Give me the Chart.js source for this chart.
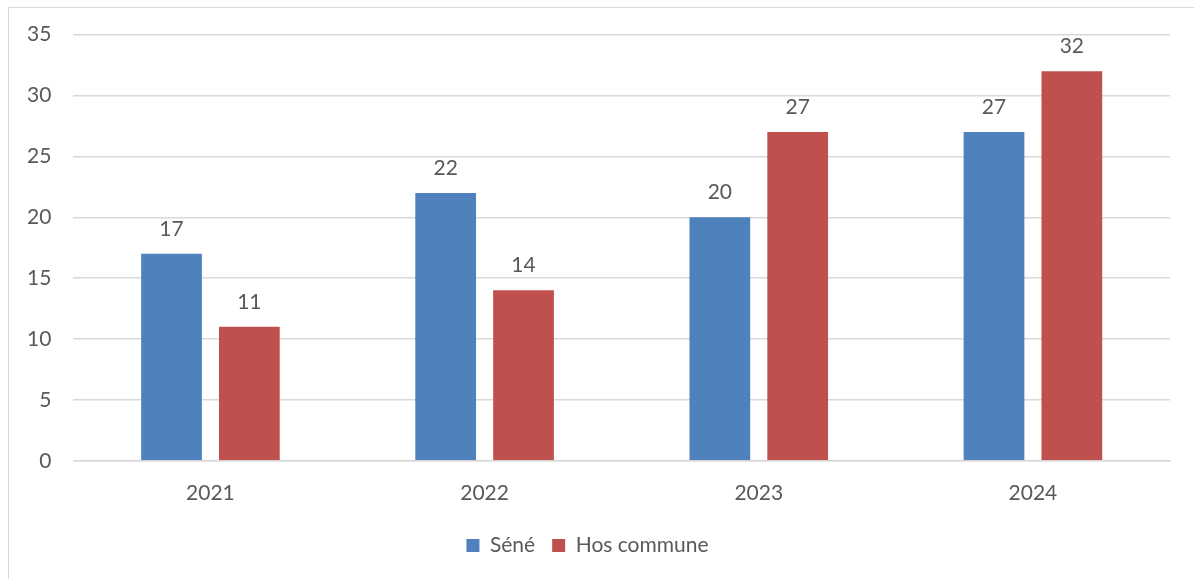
<!DOCTYPE html>
<html>
<head>
<meta charset="utf-8">
<title>Séné / Hos commune</title>
<script src="https://cdn.jsdelivr.net/npm/chart.js@4/dist/chart.umd.min.js"></script>
<style>
  html, body { margin:0; padding:0; background:#fff; overflow:hidden; }
  #wrap { position:relative; width:1194px; height:579px; }
  #frame { position:absolute; left:8px; top:7px; width:1200px; height:600px; border:1px solid #d9d9d9; box-sizing:border-box; }
  canvas { position:absolute; left:0; top:0; }
</style>
</head>
<body>
<div id="wrap">
  <div id="frame"></div>
  <canvas id="chart" width="1194" height="579"></canvas>
</div>
<script>
const years      = ['2021', '2022', '2023', '2024'];
const seneVals   = [17, 22, 20, 27];
const hosVals    = [11, 14, 27, 32];
const yTicks     = [0, 5, 10, 15, 20, 25, 30, 35];

const TEXT = '#595959';
const GRID = '#d9d9d9';
const FONT = 'Lato, "Open Sans", sans-serif';
const SIZE = 21;

// value above each bar
const barLabels = {
  id: 'barLabels',
  afterDatasetsDraw(chart) {
    const ctx = chart.ctx;
    ctx.save();
    ctx.font = `${SIZE}px ${FONT}`;
    ctx.fillStyle = TEXT;
    ctx.textAlign = 'center';
    ctx.textBaseline = 'middle';
    chart.data.datasets.forEach((ds, i) => {
      chart.getDatasetMeta(i).data.forEach((bar, j) => {
        ctx.fillText(String(ds.data[j]), bar.x, bar.y - 25);
      });
    });
    ctx.restore();
  }
};

new Chart(document.getElementById('chart').getContext('2d'), {
  type: 'bar',
  data: {
    labels: years,
    datasets: [
      { label: 'Séné',        data: seneVals, backgroundColor: '#4f81bd', barPercentage: 0.78, categoryPercentage: 0.568 },
      { label: 'Hos commune', data: hosVals,  backgroundColor: '#c0504d', barPercentage: 0.78, categoryPercentage: 0.568 }
    ]
  },
  options: {
    responsive: false,
    animation: false,
    layout: { padding: { left: 5, right: 24, top: 33, bottom: 13 } },
    plugins: {
      tooltip: { enabled: false },
      legend: {
        position: 'bottom',
        labels: {
          color: TEXT, font: { size: SIZE, family: FONT },
          boxWidth: 13, boxHeight: 13, padding: 17
        }
      }
    },
    scales: {
      x: {
        grid: { display: false },
        border: { color: GRID, width: 1.5 },
        ticks: { color: TEXT, font: { size: SIZE, family: FONT }, padding: 12 }
      },
      y: {
        min: 0, max: 35,
        afterBuildTicks: axis => { axis.ticks = yTicks.map(v => ({ value: v })); },
        grid: { color: GRID, lineWidth: 1.5, drawTicks: false },
        border: { display: false },
        ticks: { color: TEXT, font: { size: SIZE, family: FONT }, padding: 22 }
      }
    }
  },
  plugins: [barLabels]
});
</script>
</body>
</html>
